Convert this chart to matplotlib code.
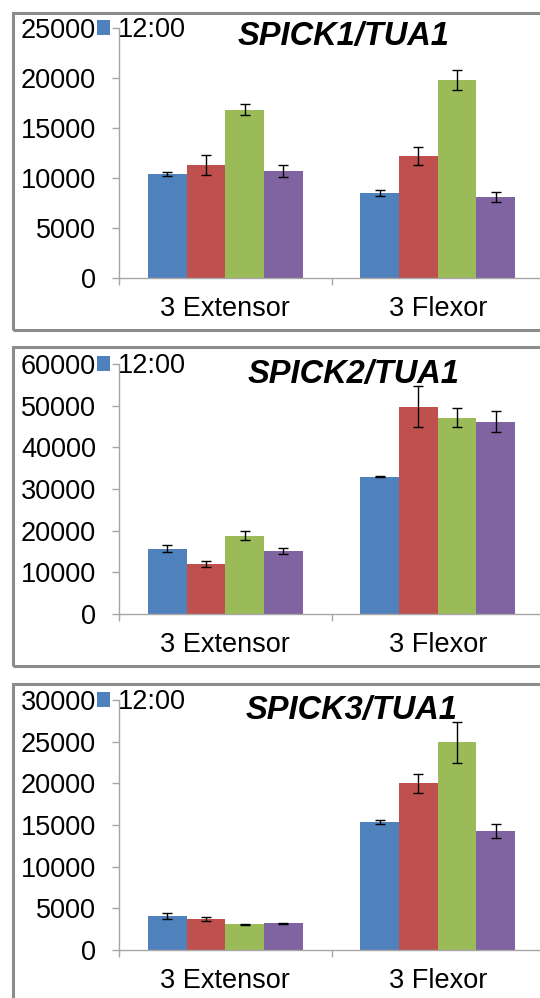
import matplotlib
matplotlib.use('Agg')
import matplotlib.pyplot as plt
from matplotlib.patches import Rectangle, Patch
from matplotlib.ticker import FixedLocator, NullFormatter, FixedFormatter

plt.rcParams['font.family'] = ['Liberation Sans', 'DejaVu Sans']

# ---------------- data ----------------
categories = ['3 Extensor', '3 Flexor']
series_colors = ['#4F81BD', '#C0504D', '#9BBB59', '#8064A2']
legend_label = '12:00'
titles = ['SPICK1/TUA1', 'SPICK2/TUA1', 'SPICK3/TUA1']
y_max = [25000, 60000, 30000]
y_step = [5000, 10000, 5000]

# values per series (4 series) per category (Extensor, Flexor)
spick1_vals = [[10400, 8500], [11300, 12200], [16850, 19800], [10700, 8100]]
spick1_errs = [[200, 270], [1000, 920], [580, 970], [580, 470]]

spick2_vals = [[15700, 32950], [12000, 49800], [18800, 47100], [15100, 46200]]
spick2_errs = [[800, 100], [720, 4900], [1120, 2300], [720, 2600]]

spick3_vals = [[4120, 15400], [3680, 20000], [3080, 24950], [3200, 14320]]
spick3_errs = [[340, 240], [240, 1180], [60, 2450], [100, 840]]

panel_vals = [spick1_vals, spick2_vals, spick3_vals]
panel_errs = [spick1_errs, spick2_errs, spick3_errs]

# ---------------- layout ----------------
W, H, DPI = 540, 998, 100
fig = plt.figure(figsize=(W / DPI, H / DPI), dpi=DPI)
fig.patch.set_facecolor('white')

ax_left, ax_width, ax_height = 119, 425, 250
ax_tops = [28, 364, 700]
borders = [(13, 330), (347, 666), (684, 1012)]
title_x = [0.528, 0.553, 0.548]
title_y = [0.966, 0.956, 0.960]

axis_gray = '#A6A6A6'
fs = 19.5
bar_w = 0.182

for p in range(3):
    top, bot = borders[p]
    fig.add_artist(Rectangle((13 / W, 1 - bot / H), (600 - 13) / W, (bot - top) / H,
                             transform=fig.transFigure, fill=False,
                             edgecolor='#8C8C8C', lw=2.2, zorder=0))

    ax = fig.add_axes([ax_left / W, 1 - (ax_tops[p] + ax_height) / H,
                       ax_width / W, ax_height / H])
    ax.set_facecolor('none')
    vals = panel_vals[p]
    errs = panel_errs[p]
    for j in range(4):
        xs = [i + 0.5 + (j - 1.5) * bar_w for i in range(len(categories))]
        ax.bar(xs, vals[j], width=bar_w, color=series_colors[j],
               edgecolor='none', zorder=2)
        ax.errorbar(xs, vals[j], yerr=errs[j], fmt='none', ecolor='black',
                    elinewidth=1, capsize=3.7, capthick=1, zorder=3)

    ax.set_xlim(0, 2)
    ax.set_ylim(0, y_max[p])
    ax.set_yticks(list(range(0, y_max[p] + 1, y_step[p])))
    ax.tick_params(axis='y', direction='out', length=5, width=1,
                   color=axis_gray, labelsize=fs, pad=11.5)

    ax.xaxis.set_major_locator(FixedLocator([0, 1, 2]))
    ax.xaxis.set_major_formatter(NullFormatter())
    ax.xaxis.set_minor_locator(FixedLocator([0.5, 1.5]))
    ax.xaxis.set_minor_formatter(FixedFormatter(categories))
    ax.tick_params(axis='x', which='major', direction='out', length=5,
                   width=1, color=axis_gray)
    ax.tick_params(axis='x', which='minor', length=0, labelsize=fs, pad=13)

    for s in ['top', 'right']:
        ax.spines[s].set_visible(False)
    for s in ['left', 'bottom']:
        ax.spines[s].set_color(axis_gray)
        ax.spines[s].set_linewidth(1)

    ax.text(title_x[p], title_y[p], titles[p], transform=ax.transAxes,
            ha='center', va='center', fontsize=23.5, fontweight='bold',
            fontstyle='italic', zorder=5)

    leg = ax.legend(handles=[Patch(facecolor=series_colors[0], edgecolor='none',
                                   label=legend_label)],
                    loc='center left', bbox_to_anchor=(-0.052, 0.992),
                    frameon=False, borderpad=0, borderaxespad=0,
                    handlelength=0.48, handleheight=0.52, handletextpad=0.3,
                    fontsize=fs)
    leg.set_zorder(6)

fig.savefig('out.png', dpi=DPI, facecolor='white')
